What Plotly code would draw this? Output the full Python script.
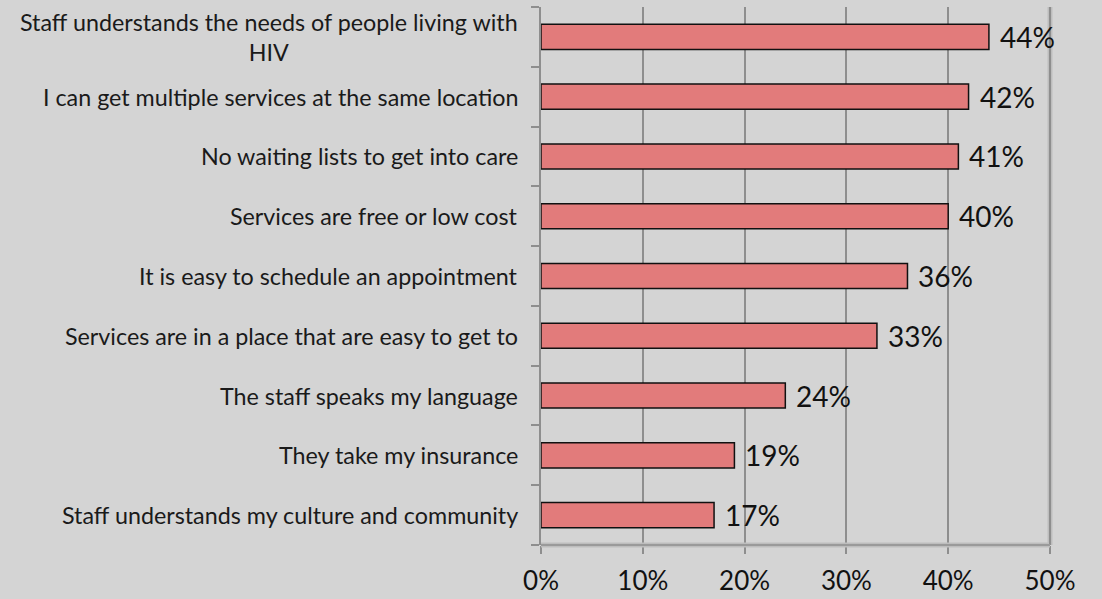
import plotly.graph_objects as go

# Reasons respondents gave, top of chart first
categories = [
    "Staff understands the needs of people living with<br>HIV",
    "I can get multiple services at the same location",
    "No waiting lists to get into care",
    "Services are free or low cost",
    "It is easy to schedule an appointment",
    "Services are in a place that are easy to get to",
    "The staff speaks my language",
    "They take my insurance",
    "Staff understands my culture and community",
]
percent = [44, 42, 41, 40, 36, 33, 24, 19, 17]
x_ticks = [0, 10, 20, 30, 40, 50]
x_tick_labels = ["0%", "10%", "20%", "30%", "40%", "50%"]

FONT = "Lato, 'Open Sans', sans-serif"
BG = "#d4d4d4"
BAR = "#e27b7b"

n = len(categories)
ypos = list(range(n - 1, -1, -1))  # first category drawn at top

fig = go.Figure()
fig.add_trace(go.Bar(
    x=percent,
    y=ypos,
    orientation="h",
    width=0.42,
    marker=dict(color=BAR, line=dict(color="#111111", width=1.5)),
    hoverinfo="skip",
))

# value labels just past each bar end
for v, y in zip(percent, ypos):
    fig.add_annotation(
        x=v, y=y, xref="x", yref="y", text=f"{v}%",
        showarrow=False, xanchor="left", yanchor="middle", xshift=9,
        font=dict(family=FONT, size=28, color="#111111"),
    )

# category labels, right-aligned against the axis, centred when wrapped
for c, y in zip(categories, ypos):
    fig.add_annotation(
        x=0, y=y, xref="paper", yref="y", text=c,
        showarrow=False, xanchor="right", yanchor="middle", xshift=-21,
        align="center",
        font=dict(family=FONT, size=23.3, color="#1a1a1a"),
    )

fig.update_layout(
    width=1102, height=599,
    margin=dict(l=541, r=52, t=7, b=54, autoexpand=False),
    paper_bgcolor=BG, plot_bgcolor=BG,
    showlegend=False,
    bargap=0.58,
    xaxis=dict(
        range=[0, 50], tickvals=x_ticks, ticktext=x_tick_labels,
        showgrid=True, gridcolor="#8e8e8e", gridwidth=1.5,
        zeroline=False, showline=False,
        ticks="outside", ticklen=8, tickcolor="#8e8e8e", tickwidth=1.5,
        ticklabelstandoff=5, automargin=False,
        tickfont=dict(family=FONT, size=26, color="#111111"),
        fixedrange=True,
    ),
    yaxis=dict(
        range=[-0.5, n - 0.5],
        tickvals=[i - 0.5 for i in range(n + 1)],
        showticklabels=False, automargin=False,
        ticks="outside", ticklen=8, tickcolor="#8e8e8e", tickwidth=1.5,
        showgrid=False, zeroline=False,
        showline=True, linecolor="#8e8e8e", linewidth=1.5,
        fixedrange=True,
    ),
)

# right border and bottom edge of the plot frame, with a soft shadow
fig.add_shape(type="line", xref="paper", yref="paper", x0=1, x1=1, y0=0, y1=1,
              line=dict(color="#bdbdbd", width=5))
fig.add_shape(type="line", xref="paper", yref="paper", x0=0, x1=1, y0=0, y1=0,
              line=dict(color="#bdbdbd", width=5))
fig.add_shape(type="line", xref="paper", yref="paper", x0=1, x1=1, y0=0, y1=1,
              line=dict(color="#8e8e8e", width=2))
fig.add_shape(type="line", xref="paper", yref="paper", x0=0, x1=1, y0=0, y1=0,
              line=dict(color="#9a9a9a", width=2))

fig.write_html("out.html")
